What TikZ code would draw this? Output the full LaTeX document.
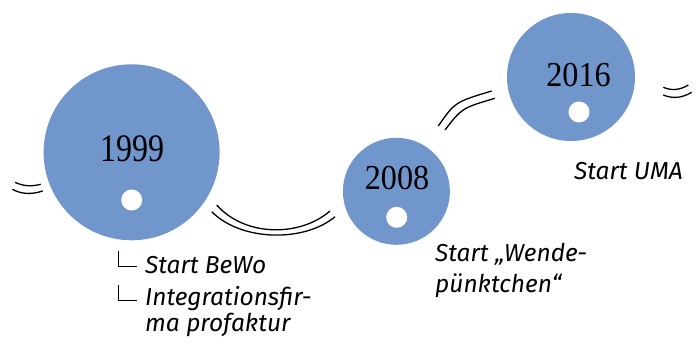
\documentclass[tikz,border=0pt]{standalone}
\usepackage{fontspec}
\setmainfont{Liberation Serif}
\newfontfamily\labelfont{Fira Sans}
\begin{document}
\begin{tikzpicture}[x=1pt,y=-1pt,
  bubble/.style={circle,fill=bubbleblue,draw=none,inner sep=0pt},
  dot/.style={circle,fill=white,draw=none,inner sep=0pt,minimum size=21pt},
  wave/.style={line width=1.3pt,black},
  marker/.style={line width=0.8pt,black},
  lbl/.style={font=\labelfont\itshape\fontsize{24.5}{28}\selectfont,anchor=base west,inner sep=0pt},
  yearbig/.style={font=\fontsize{39}{40}\selectfont,inner sep=0pt},
  yearsmall/.style={font=\fontsize{35}{36}\selectfont,inner sep=0pt}]
\definecolor{bubbleblue}{RGB}{112,150,204}
\useasboundingbox (0,0) rectangle (700,347);
% circles
\node[bubble,minimum size=176pt] (c1) at (131.6,152.3) {};
\node[bubble,minimum size=107pt] (c2) at (396.4,191.3) {};
\node[bubble,minimum size=128pt] (c3) at (571,77) {};
% years
\node[yearbig] (y1) at (132.5,148.5) {\scalebox{0.82}[1]{1999}};
\node[yearsmall] (y2) at (397,178.3) {\scalebox{0.92}[1]{2008}};
\node[yearsmall] (y3) at (578.5,75) {\scalebox{0.92}[1]{2016}};
% white dots
\node[dot] (d1) at (131.7,200) {};
\node[dot] (d2) at (396.7,217.3) {};
\node[dot] (d3) at (579,112) {};
% double wave segments
\draw[wave] (15,182.3) .. controls (24,186.5) and (32,186.5) .. (40.7,184.3);
\draw[wave] (12.3,189.3) .. controls (22,194.5) and (32,194.5) .. (42.7,191);
\draw[wave] (216.7,205) .. controls (245,237) and (300,237) .. (330,211);
\draw[wave] (211.7,211.7) .. controls (242,242) and (305,242) .. (335,216.7);
\draw[wave] (438.3,126) .. controls (455,102) .. (491.7,91);
\draw[wave] (445,130) .. controls (462,108) .. (495,98.3);
\draw[wave] (663.3,87.3) .. controls (672,91) and (680,90) .. (688.3,85);
\draw[wave] (663.3,95) .. controls (673,99) and (682,98) .. (691.7,92.3);
% markers
\draw[marker] (118.3,251) -- (118.3,266) -- (136.7,266);
\draw[marker] (118.3,285) -- (118.3,300) -- (136.7,300);
% labels
\node[lbl] (t1) at (145,273.3) {Start BeWo};
\node[lbl] (t2) at (145,305) {Integrationsfir-};
\node[lbl] (t3) at (145,331.7) {ma profaktur};
\node[lbl] (t4) at (435,261.7) {Start „Wende-};
\node[lbl] (t5) at (435,292.7) {pünktchen“};
\node[lbl] (t6) at (574,180) {Start UMA};
\end{tikzpicture}
\end{document}
